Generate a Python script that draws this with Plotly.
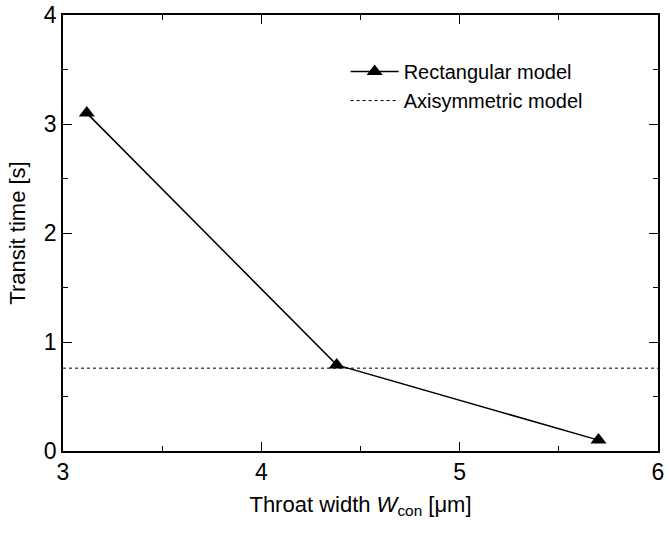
import plotly.graph_objects as go

# data
throat_width = [3.12, 4.38, 5.70]
transit_rect = [3.10, 0.79, 0.10]
transit_axi = 0.76
x_range = [3, 6]
y_range = [0, 4]

FONT = "Liberation Sans, Arial"

fig = go.Figure()

fig.add_trace(go.Scatter(
    x=throat_width,
    y=transit_rect,
    mode="lines+markers",
    name="Rectangular model",
    line=dict(color="black", width=1.5),
    marker=dict(symbol="triangle-up", size=14, color="black"),
    cliponaxis=False,
))

fig.add_trace(go.Scatter(
    x=x_range,
    y=[transit_axi, transit_axi],
    mode="lines",
    name="Axisymmetric model",
    line=dict(color="black", width=1, dash="dot"),
))

axis_style = dict(
    showline=True, linecolor="black", linewidth=1.5, mirror="ticks",
    ticks="inside", ticklen=9, tickwidth=1.3, tickcolor="black",
    showgrid=False, zeroline=False, automargin=False,
    tickfont=dict(family=FONT, size=23, color="black"),
    title_font=dict(family=FONT, size=22, color="black"),
)

fig.update_xaxes(
    range=x_range, dtick=1,
    minor=dict(dtick=0.5, ticks="inside", ticklen=5, tickcolor="black", showgrid=False),
    title_text="Throat width <i>W</i><sub>con</sub> [μm]",
    title_standoff=12,
    **axis_style,
)
fig.update_yaxes(
    range=y_range, dtick=1,
    minor=dict(dtick=0.5, ticks="inside", ticklen=5, tickcolor="black", showgrid=False),
    title_text="Transit time [s]",
    title_standoff=12,
    **axis_style,
)

fig.update_layout(
    width=670, height=533,
    margin=dict(l=63, r=12, t=15, b=82),
    plot_bgcolor="white",
    paper_bgcolor="white",
    showlegend=True,
    legend=dict(
        x=0.475, y=0.915, xanchor="left", yanchor="top",
        bgcolor="rgba(0,0,0,0)",
        font=dict(family=FONT, size=20, color="black"),
        itemwidth=48, tracegroupgap=0,
    ),
)

# drop the default body margin so the figure sits at the window's top-left
fig.write_html(
    "out.html",
    config={"displayModeBar": False},
    post_script="document.body.style.margin='0';",
)
